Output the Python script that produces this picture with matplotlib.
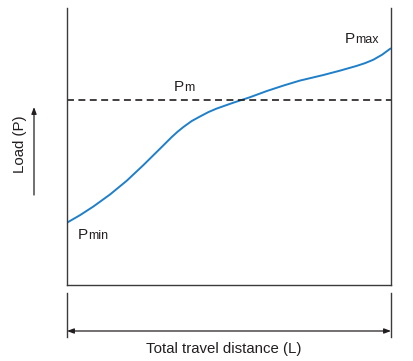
import matplotlib
matplotlib.use("Agg")
import matplotlib.pyplot as plt

plt.rcParams['font.family'] = ['Liberation Sans', 'DejaVu Sans']
plt.rcParams['lines.scale_dashes'] = False

# curve (distance as fraction of L, load as fraction of plot height)
distance = [0.0, 0.04, 0.081, 0.133, 0.184, 0.235, 0.287, 0.324, 0.342, 0.360,
            0.385, 0.410, 0.436, 0.462, 0.513, 0.565, 0.616, 0.668, 0.719, 0.791,
            0.843, 0.894, 0.920, 0.945, 0.972, 1.0]
load = [0.225, 0.252, 0.283, 0.327, 0.376, 0.432, 0.492, 0.535, 0.554, 0.571,
        0.592, 0.608, 0.624, 0.637, 0.658, 0.678, 0.700, 0.720, 0.738, 0.758,
        0.774, 0.791, 0.801, 0.813, 0.831, 0.855]
p_mean = 0.668

ink = '#3c3a3b'
blue = '#1f7fc9'

fig = plt.figure(figsize=(4.13, 3.61), dpi=100)
ax = fig.add_axes([67/413, 76/361, 324/413, 277/361])
ax.set_xlim(0, 1)
ax.set_ylim(0, 1)

ax.plot(distance, load, color=blue, lw=1.4, solid_capstyle='butt', solid_joinstyle='round')
ax.axhline(p_mean, color='#231f20', lw=1.2, dashes=(5, 3.2))

ax.set_xticks([])
ax.set_yticks([])
ax.spines['top'].set_visible(False)
for s in ['left', 'right', 'bottom']:
    ax.spines[s].set_color(ink)
    ax.spines[s].set_linewidth(1.0)

# P labels: big P with smaller suffix on same baseline
def plabel(x, y, suffix):
    ax.text(x, y, 'P', fontsize=11, ha='right', va='baseline', color='#231f20')
    ax.text(x, y, suffix, fontsize=9, ha='left', va='baseline', color='#231f20')

plabel(0.889, 0.874, 'max')
plabel(0.362, 0.702, 'm')
plabel(0.065, 0.166, 'min')

# y label with upward arrow
fig.text(20/413, 1 - 144/361, 'Load (P)', rotation=90, fontsize=10.8,
         ha='center', va='center', color='#231f20')
fig.add_artist(matplotlib.patches.FancyArrowPatch(
    (34/413, 1 - 195/361), (34/413, 1 - 107/361), transform=fig.transFigure,
    arrowstyle='-|>,head_length=4,head_width=1.5', color='#231f20', lw=0.9,
    shrinkA=0, shrinkB=0))

# dimension line below the plot
x0, x1 = 67/413, 391/413
for xx in (x0, x1):
    fig.add_artist(plt.Line2D([xx, xx], [1 - 293/361, 1 - 337/361], color=ink, lw=1.0))
fig.add_artist(matplotlib.patches.FancyArrowPatch(
    (x0, 1 - 331/361), (x1, 1 - 331/361), transform=fig.transFigure,
    arrowstyle='<|-|>,head_length=4,head_width=1.5', color='#231f20', lw=0.9,
    shrinkA=0, shrinkB=0))
fig.text(224/413, 1 - 349/361, 'Total travel distance (L)', fontsize=10.8,
         ha='center', va='center', color='#231f20')

fig.savefig('out.png', dpi=100)
